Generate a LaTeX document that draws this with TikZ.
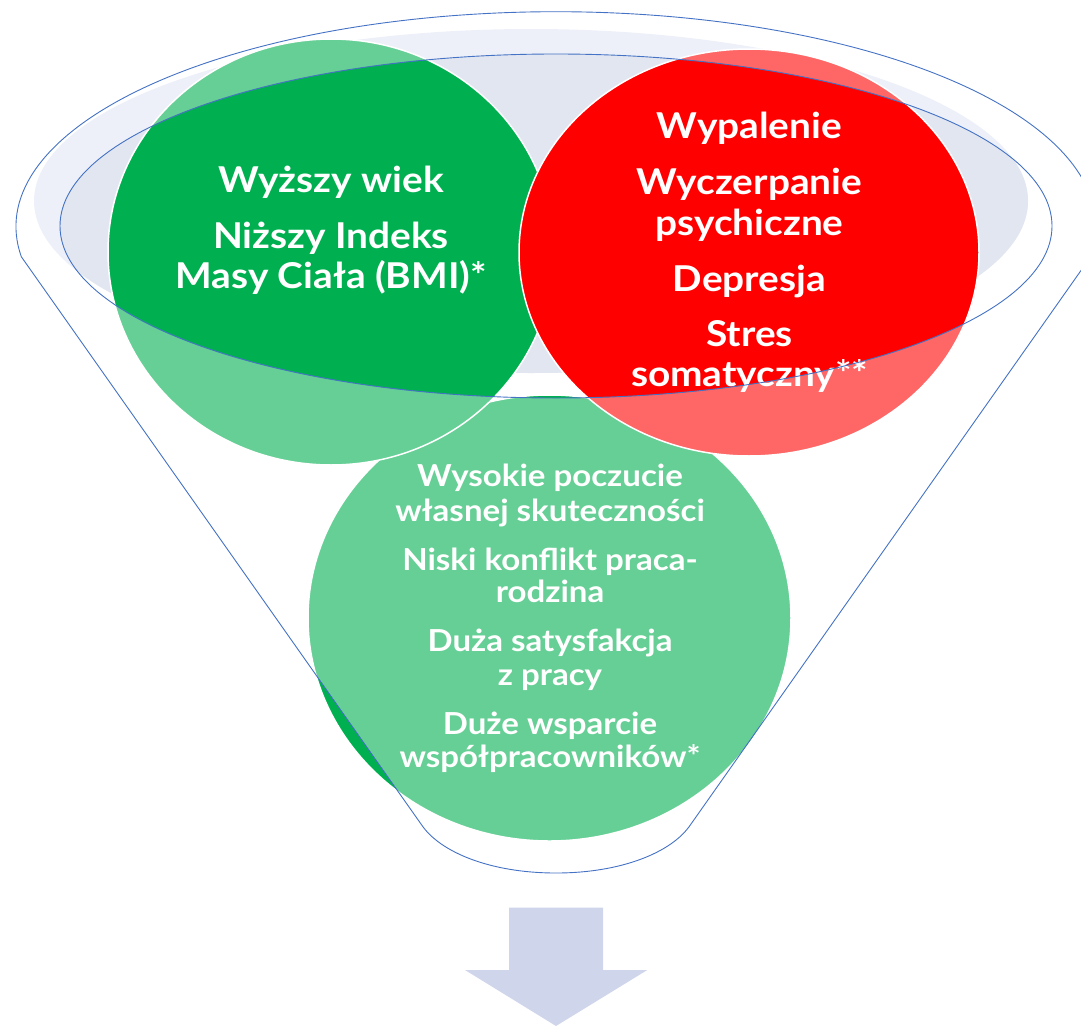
\documentclass[tikz,border=0pt]{standalone}
\usepackage{fontspec}
\setmainfont{Lato}[FakeStretch=1.09]
\definecolor{dg}{HTML}{00B050}
\definecolor{lg}{HTML}{66CF96}
\definecolor{dr}{HTML}{FF0000}
\definecolor{lr}{HTML}{FF6666}
\definecolor{fun}{HTML}{4472C4}
\definecolor{fillA}{HTML}{EDF0F8}
\definecolor{fillB}{HTML}{E2E6F1}
\definecolor{arr}{HTML}{CFD5EA}
\begin{document}
\begin{tikzpicture}[x=1pt,y=1pt,
  big/.style={text=white,font=\bfseries\fontsize{35.6}{40}\selectfont,anchor=base,inner sep=0pt},
  small/.style={text=white,font=\bfseries\fontsize{30.3}{34}\selectfont,anchor=base,inner sep=0pt},
  rim/.style={draw=fun,line width=0.9pt},
  ring/.style={draw=white,line width=1.5pt}]
\useasboundingbox (0,0) rectangle (1081,-1025);
% funnel mouth fill
\fill[fillA] (531,-201) ellipse[x radius=497,y radius=172];
\begin{scope}
  \clip (556,-226) ellipse[x radius=496,y radius=172];
  \fill[fillB] (531,-201) ellipse[x radius=497,y radius=172];
\end{scope}
% bottom circle
\fill[lg] (549.5,-618) ellipse[x radius=241.5,y radius=223];
\begin{scope}
  \clip (549.5,-618) ellipse[x radius=241.5,y radius=223];
  \fill[dg] (0,-256.7) -- (21.3,-256.7) -- (421.7,-825) -- (421.7,-1025) -- (0,-1025) -- cycle;
  \fill[dg] (1081,-256.7) -- (1090.7,-256.7) -- (690.3,-825) -- (690.3,-1025) -- (1081,-1025) -- cycle;
  \fill[dg] (556,-226) ellipse[x radius=496,y radius=172];
\end{scope}
\draw[ring] (549.5,-618) ellipse[x radius=241.5,y radius=223];
% green circle
\fill[lg] (331,-252) ellipse[x radius=223,y radius=213];
\begin{scope}
  \clip (556,-226) ellipse[x radius=496,y radius=172];
  \fill[dg] (331,-252) ellipse[x radius=223,y radius=213];
\end{scope}
\draw[ring] (331,-252) ellipse[x radius=223,y radius=213];
% red circle
\fill[lr] (749,-252.5) ellipse[x radius=230,y radius=203.5];
\begin{scope}
  \clip (556,-226) ellipse[x radius=496,y radius=172];
  \fill[dr] (749,-252.5) ellipse[x radius=230,y radius=203.5];
\end{scope}
\draw[ring] (749,-252.5) ellipse[x radius=230,y radius=203.5];
% texts
\node[big] (g1) at (331,-192.7) {Wyższy wiek};
\node[big] (g2) at (331,-248.3) {Niższy Indeks};
\node[big] (g3) at (331,-288.3) {Masy Ciała (BMI)*};
\node[big] (r1) at (749.5,-138.3) {Wypalenie};
\node[big] (r2) at (749.5,-194) {Wyczerpanie};
\node[big] (r3) at (749.5,-235) {psychiczne};
\node[big] (r4) at (749.5,-291.7) {Depresja};
\node[big] (r5) at (749.5,-346.7) {Stres};
\node[big] (r6) at (749.5,-386.7) {somatyczny**};
\node[small] (b1) at (550,-486.7) {Wysokie poczucie};
\node[small] (b2) at (550,-521.7) {własnej skuteczności};
\node[small] (b3) at (550,-570) {Niski konflikt praca-};
\node[small] (b4) at (550,-602.7) {rodzina};
\node[small] (b5) at (550,-651.7) {Duża satysfakcja};
\node[small] (b6) at (550,-685) {z pracy};
\node[small] (b7) at (550,-734) {Duże wsparcie};
\node[small] (b8) at (550,-767.3) {współpracowników*};
% funnel outlines
\draw[rim] (556,-226) ellipse[x radius=496,y radius=172];
\draw[rim] (21.3,-256.7) arc[start angle=188.02,end angle=-8.02,x radius=540,y radius=215]
  -- (690.3,-825) .. controls (672,-852) and (622,-873) .. (556,-873)
  .. controls (490,-873) and (440,-852) .. (421.7,-825) -- cycle;
% arrow
\fill[arr] (509,-907.7) -- (603,-907.7) -- (603,-970) -- (647.3,-970) -- (556,-1026)
  -- (465,-970) -- (509,-970) -- cycle;
\end{tikzpicture}
\end{document}
